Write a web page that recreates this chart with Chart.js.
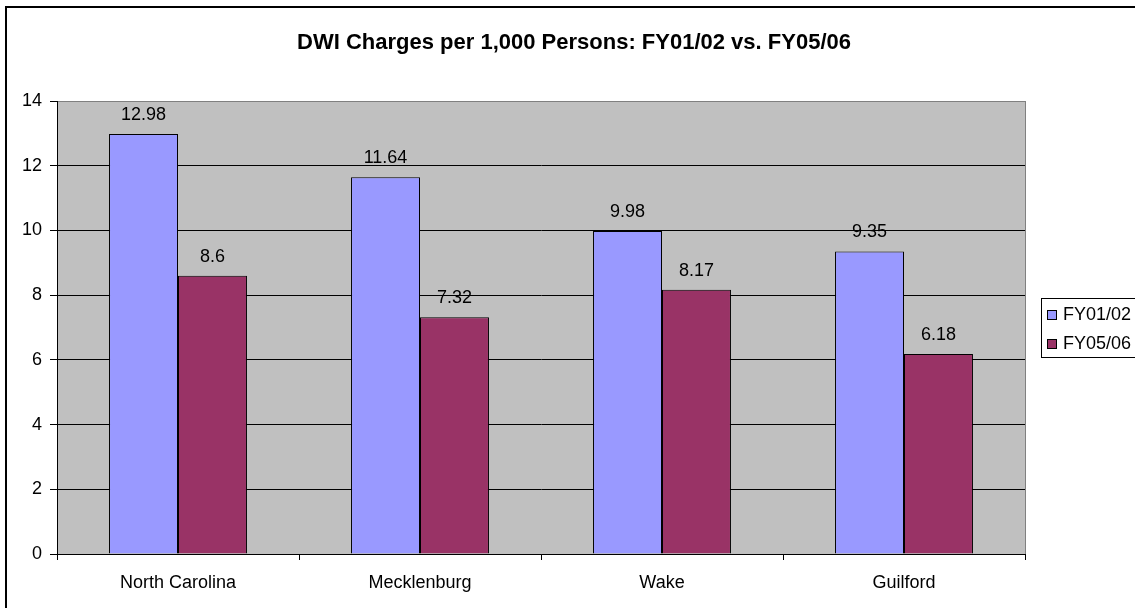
<!DOCTYPE html>
<html>
<head>
<meta charset="utf-8">
<script src="https://cdn.jsdelivr.net/npm/chart.js@4/dist/chart.umd.min.js"></script>
<style>
  body { margin: 0; background: #fff; }
  canvas { display: block; }
</style>
</head>
<body>
<canvas id="dwiChart" width="1135" height="608"></canvas>
<script>
const categories = ["North Carolina", "Mecklenburg", "Wake", "Guilford"];
const fy0102 = [12.98, 11.64, 9.98, 9.35];
const fy0506 = [8.6, 7.32, 8.17, 6.18];
const seriesNames = ["FY01/02", "FY05/06"];
const yMin = 0, yMax = 14, yStep = 2;

const FONT = "'Liberation Sans', Arial, sans-serif";

// excel-ish frame, plot background, title, value labels and legend
const excelLook = {
  id: "excelLook",
  beforeDraw(chart) {
    const ctx = chart.ctx;
    const a = chart.chartArea;
    ctx.save();
    ctx.fillStyle = "#fff";
    ctx.fillRect(0, 0, chart.width, chart.height);
    ctx.strokeStyle = "#000";
    ctx.lineWidth = 2;
    ctx.strokeRect(6, 7, chart.width + 20, chart.height + 20);
    ctx.fillStyle = "#C0C0C0";
    ctx.fillRect(a.left, a.top, a.right - a.left, a.bottom - a.top);
    ctx.strokeStyle = "#808080";
    ctx.lineWidth = 1;
    ctx.strokeRect(a.left + 0.5, a.top + 0.5, a.right - a.left, a.bottom - a.top);
    ctx.fillStyle = "#000";
    ctx.font = "bold 22px " + FONT;
    ctx.textAlign = "center";
    ctx.textBaseline = "alphabetic";
    ctx.fillText("DWI Charges per 1,000 Persons: FY01/02 vs. FY05/06", 574, 49);
    ctx.restore();
  },
  afterDatasetsDraw(chart) {
    const ctx = chart.ctx;
    ctx.save();
    ctx.fillStyle = "#000";
    ctx.font = "18px " + FONT;
    ctx.textAlign = "center";
    ctx.textBaseline = "alphabetic";
    chart.data.datasets.forEach((ds, i) => {
      chart.getDatasetMeta(i).data.forEach((bar, j) => {
        ctx.fillText(String(ds.data[j]), bar.x, bar.y - 14);
      });
    });
    ctx.restore();
  },
  afterDraw(chart) {
    const ctx = chart.ctx;
    ctx.save();
    ctx.strokeStyle = "#000";
    ctx.lineWidth = 1;
    ctx.strokeRect(1041.5, 298.5, 120, 59);
    ctx.font = "18px " + FONT;
    ctx.textBaseline = "alphabetic";
    ctx.textAlign = "left";
    chart.data.datasets.forEach((ds, i) => {
      const base = 319.5 + i * 29;
      ctx.fillStyle = ds.backgroundColor;
      ctx.fillRect(1047.5, base - 9, 9, 9);
      ctx.strokeRect(1047.5, base - 9, 9, 9);
      ctx.fillStyle = "#000";
      ctx.fillText(ds.label, 1063, base);
    });
    ctx.restore();
  }
};

new Chart(document.getElementById("dwiChart"), {
  type: "bar",
  data: {
    labels: categories,
    datasets: [
      { label: seriesNames[0], data: fy0102, backgroundColor: "#9999FF", borderColor: "#000", borderWidth: 1 },
      { label: seriesNames[1], data: fy0506, backgroundColor: "#993366", borderColor: "#000", borderWidth: 1 }
    ]
  },
  options: {
    responsive: false,
    animation: false,
    layout: { padding: { top: 101, right: 110, left: 0, bottom: 0 } },
    datasets: { bar: { categoryPercentage: 0.57, barPercentage: 1 } },
    plugins: {
      legend: { display: false },
      title: { display: false },
      tooltip: { enabled: false }
    },
    scales: {
      x: {
        afterFit(s) { s.height = 54; },
        grid: { offset: true, drawOnChartArea: false, tickLength: 6, tickColor: "#000" },
        border: { color: "#000", width: 1 },
        ticks: { color: "#000", font: { family: FONT, size: 18 }, padding: 12 }
      },
      y: {
        min: yMin,
        max: yMax,
        afterFit(s) { s.width = 57; },
        grid: {
          tickLength: 7,
          tickColor: "#000",
          color: (c) => (c.tick && c.tick.value === yMax ? "#808080" : "#000")
        },
        border: { color: "#000", width: 1 },
        ticks: { stepSize: yStep, color: "#000", font: { family: FONT, size: 18 }, padding: 8 }
      }
    }
  },
  plugins: [excelLook]
});
</script>
</body>
</html>
